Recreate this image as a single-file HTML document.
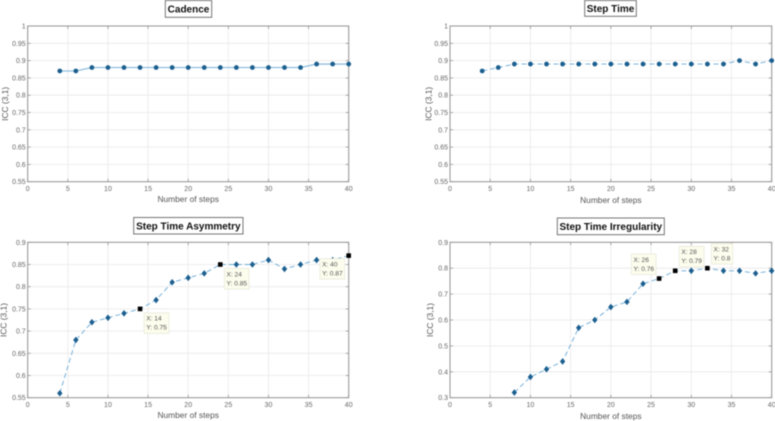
<!DOCTYPE html>
<html lang="en">
<head>
<meta charset="utf-8">
<title>ICC by number of steps</title>
<style>
html,body{margin:0;padding:0;background:#fff;width:775px;height:421px;overflow:hidden}
svg{display:block;filter:blur(.45px);font-family:"Liberation Sans",sans-serif}
</style>
</head>
<body>
<svg id="figure" xmlns="http://www.w3.org/2000/svg" width="775" height="421" viewBox="0 0 775 421"></svg>
<script>
const cadenceSteps = [4,6,8,10,12,14,16,18,20,22,24,26,28,30,32,34,36,38,40];
const cadenceValues = [0.87,0.87,0.88,0.88,0.88,0.88,0.88,0.88,0.88,0.88,0.88,0.88,0.88,0.88,0.88,0.88,0.89,0.89,0.89];
const stepTimeSteps = [4,6,8,10,12,14,16,18,20,22,24,26,28,30,32,34,36,38,40];
const stepTimeValues = [0.87,0.88,0.89,0.89,0.89,0.89,0.89,0.89,0.89,0.89,0.89,0.89,0.89,0.89,0.89,0.89,0.90,0.89,0.90];
const asymmetrySteps = [4,6,8,10,12,14,16,18,20,22,24,26,28,30,32,34,36,38,40];
const asymmetryValues = [0.56,0.68,0.72,0.73,0.74,0.75,0.77,0.81,0.82,0.83,0.85,0.85,0.85,0.86,0.84,0.85,0.86,0.86,0.87];
const irregularitySteps = [8,10,12,14,16,18,20,22,24,26,28,30,32,34,36,38,40];
const irregularityValues = [0.32,0.38,0.41,0.44,0.57,0.60,0.65,0.67,0.74,0.76,0.79,0.79,0.80,0.79,0.79,0.78,0.79];
const xTicks = [0,5,10,15,20,25,30,35,40];
const yTicksHigh = [0.55,0.6,0.65,0.7,0.75,0.8,0.85,0.9,0.95,1];
const yTicksAsymmetry = [0.55,0.6,0.65,0.7,0.75,0.8,0.85,0.9];
const yTicksIrregularity = [0.3,0.4,0.5,0.6,0.7,0.8,0.9];
const asymmetryTips = [14,24,40];
const irregularityTips = [26,28,32];

const charts = [
  {id:'cadence',title:'Cadence',steps:cadenceSteps,values:cadenceValues,yTicks:yTicksHigh,tips:[],
   left:27.7,right:348.7,top:26,bottom:181.7,titleBox:[165.3,0.5,46.4,16.8],ylabelX:5,xlabelY:202,marker:'circle',dash:'none',lineW:1.3,lineC:'#8fc0de'},
  {id:'step-time',title:'Step Time',steps:stepTimeSteps,values:stepTimeValues,yTicks:yTicksHigh,tips:[],
   left:450,right:771.7,top:26,bottom:181.7,titleBox:[584.7,0.5,51.6,15.8],ylabelX:428.3,xlabelY:203,marker:'circle',dash:'5 3',lineW:0.9,lineC:'#6aaad6'},
  {id:'asymmetry',title:'Step Time Asymmetry',steps:asymmetrySteps,values:asymmetryValues,yTicks:yTicksAsymmetry,tips:asymmetryTips,
   left:27.7,right:348.7,top:242.3,bottom:397.7,titleBox:[133.7,217.5,109.3,16.5],ylabelX:3.5,xlabelY:418,marker:'diamond',dash:'5 3',lineW:0.9,lineC:'#6aaad6'},
  {id:'irregularity',title:'Step Time Irregularity',steps:irregularitySteps,values:irregularityValues,yTicks:yTicksIrregularity,tips:irregularityTips,
   left:450,right:771.7,top:242.3,bottom:397.7,titleBox:[557.3,218,107,16.7],ylabelX:430,xlabelY:419,marker:'diamond',dash:'5 3',lineW:0.9,lineC:'#6aaad6'}
];

const NS = 'http://www.w3.org/2000/svg';
const fig = document.getElementById('figure');

function make(parent, tag, attrs, text) {
  const node = document.createElementNS(NS, tag);
  for (const k in attrs) node.setAttribute(k, attrs[k]);
  if (text !== undefined) node.textContent = text;
  parent.appendChild(node);
  return node;
}

function tipPlacement(chartId, px, py, w, h) {
  if (chartId === 'asymmetry') {
    if (px > 340) return [px - 4 - w, py + 3];
    return [px + 4, py + 4];
  }
  if (px < 665) return [px - 3 - w, py - 4 - h];
  return [px + 4, py - 4 - h];
}

charts.forEach(function (c) {
  const yMin = c.yTicks[0];
  const yMax = c.yTicks[c.yTicks.length - 1];
  const sx = function (v) { return c.left + (v - xTicks[0]) / (xTicks[xTicks.length - 1] - xTicks[0]) * (c.right - c.left); };
  const sy = function (v) { return c.bottom - (v - yMin) / (yMax - yMin) * (c.bottom - c.top); };

  const g = make(fig, 'g', {});
  
  

  xTicks.forEach(function (t) {
    const x = sx(t);
    const grid = make(g, 'line', {x1:x, x2:x, y1:c.top, y2:c.bottom, stroke:'#e8e8e8', 'stroke-width':0.8});
    
    
    const tickA = make(g, 'line', {x1:x, x2:x, y1:c.bottom, y2:c.bottom - 3, stroke:'#888', 'stroke-width':0.7});
    
    
    const tickB = make(g, 'line', {x1:x, x2:x, y1:c.top, y2:c.top + 3, stroke:'#888', 'stroke-width':0.7});
    
    
    const label = make(g, 'text', {x:x, y:c.bottom + 9.5, 'text-anchor':'middle', 'font-size':7, fill:'#666'}, String(t));
    
    
  });

  c.yTicks.forEach(function (t) {
    const y = sy(t);
    const grid = make(g, 'line', {x1:c.left, x2:c.right, y1:y, y2:y, stroke:'#e8e8e8', 'stroke-width':0.8});
    
    
    const tickA = make(g, 'line', {x1:c.left, x2:c.left + 3, y1:y, y2:y, stroke:'#888', 'stroke-width':0.7});
    
    
    const tickB = make(g, 'line', {x1:c.right, x2:c.right - 3, y1:y, y2:y, stroke:'#888', 'stroke-width':0.7});
    
    
    const label = make(g, 'text', {x:c.left - 2, y:y + 2.5, 'text-anchor':'end', 'font-size':7, fill:'#666'}, String(t));
    
    
  });

  const frame = make(g, 'rect', {x:c.left, y:c.top, width:c.right - c.left, height:c.bottom - c.top, fill:'none', stroke:'#949494', 'stroke-width':1});
  
  

  const pts = c.steps.map(function (s, i) { return sx(s) + ',' + sy(c.values[i]); }).join(' ');
  const line = make(g, 'polyline', {points:pts, fill:'none', stroke:c.lineC, 'stroke-width':c.lineW, 'stroke-dasharray':c.dash});
  
  

  c.steps.forEach(function (s, i) {
    const x = sx(s);
    const y = sy(c.values[i]);
    let mark;
    if (c.tips.indexOf(s) >= 0) {
      mark = make(g, 'rect', {x:x - 2.3, y:y - 2.3, width:4.6, height:4.6, fill:'#000'});
    } else if (c.marker === 'circle') {
      mark = make(g, 'circle', {cx:x, cy:y, r:2.4, fill:'#1c5f8f'});
    } else {
      mark = make(g, 'path', {d:'M' + x + ' ' + (y - 3.3) + 'L' + (x + 2.7) + ' ' + y + 'L' + x + ' ' + (y + 3.3) + 'L' + (x - 2.7) + ' ' + y + 'Z', fill:'#1c5f8f'});
    }
    
    
  });

  c.tips.forEach(function (s) {
    const v = c.values[c.steps.indexOf(s)];
    const xLine = 'X: ' + s;
    const yLine = 'Y: ' + v;
    const w = 3.4 * yLine.length + 1;
    const h = 20.5;
    const pos = tipPlacement(c.id, sx(s), sy(v), w, h);
    const tip = make(g, 'g', {});
    
    
    make(tip, 'rect', {x:pos[0], y:pos[1], width:w, height:h, fill:'#fdfdee', stroke:'#e6e6d8', 'stroke-width':0.7});
    make(tip, 'text', {x:pos[0] + 2.2, y:pos[1] + 7.8, 'font-size':6.6, fill:'#555'}, xLine);
    make(tip, 'text', {x:pos[0] + 2.2, y:pos[1] + 16.8, 'font-size':6.6, fill:'#555'}, yLine);
  });

  const xLabel = make(g, 'text', {x:(c.left + c.right) / 2, y:c.xlabelY, 'text-anchor':'middle', 'font-size':8.4, fill:'#555'}, 'Number of steps');
  
  

  const yLabel = make(g, 'text', {transform:'translate(' + (c.ylabelX + 3) + ' ' + ((c.top + c.bottom) / 2) + ') rotate(-90)', 'text-anchor':'middle', 'font-size':8.4, fill:'#555'}, 'ICC (3,1)');
  
  

  const b = c.titleBox;
  const titleRect = make(g, 'rect', {x:b[0], y:b[1], width:b[2], height:b[3], fill:'#fff', stroke:'#666', 'stroke-width':0.9});
  
  
  const title = make(g, 'text', {x:b[0] + b[2] / 2, y:b[1] + b[3] / 2 + 3.5, 'text-anchor':'middle', 'font-size':10, 'font-weight':'bold', fill:'#111'}, c.title);
  
  
});
</script>
</body>
</html>
